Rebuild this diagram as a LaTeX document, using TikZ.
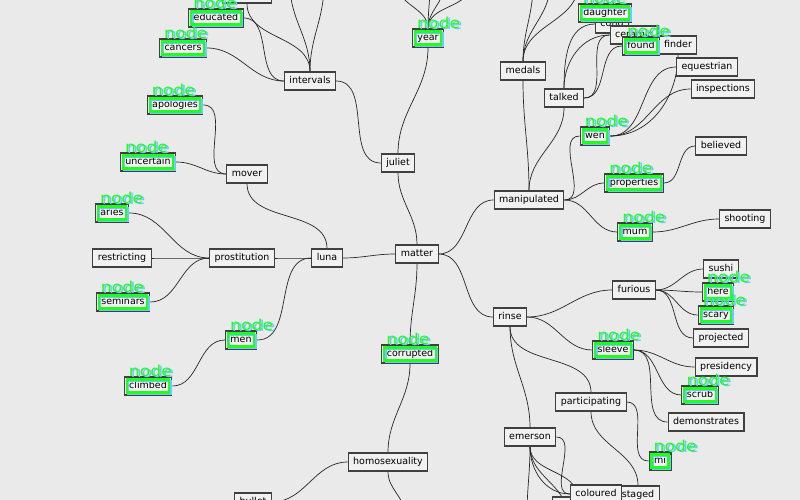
\documentclass[tikz,border=0pt]{standalone}
\usepackage{fontspec}
\setmainfont{DejaVu Sans}
\newfontfamily\tagfont{DejaVu Sans}[FakeStretch=1.15]
\definecolor{paper}{RGB}{234,234,234}
\definecolor{boxfill}{RGB}{241,241,241}
\definecolor{tagg}{RGB}{30,255,30}
\definecolor{tagb}{RGB}{110,200,255}
\pgfdeclarelayer{paperlayer}
\pgfdeclarelayer{edges}
\pgfsetlayers{paperlayer,edges,main}
\begin{document}
\begin{tikzpicture}[x=1pt,y=-1pt,
	box/.style={draw=black!75, fill=boxfill, line width=1.1pt, minimum height=18pt, inner xsep=5pt, inner ysep=0pt, text height=7pt, text depth=2pt, font=\fontsize{9.5}{10}\selectfont},
	link/.style={draw=black!85, line width=0.7pt},
	hlgreen/.style={draw=tagg, line width=2.2pt},
	hlblue/.style={draw=tagb, line width=2pt},
	tag/.style={anchor=base west, inner sep=0pt, font=\tagfont\fontsize{15}{15}\selectfont, text=tagg}]
	\useasboundingbox (0,0) rectangle (800,500);
	\begin{pgfonlayer}{paperlayer}
	\fill[paper] (0,0) rectangle (800,500);
	\end{pgfonlayer}
	\clip (0,0) rectangle (800,500);
	% boxes of the map
	\foreach \n/\x/\y/\t in {topbox/247/-6/\phantom{xxxxxxx}, educated/216/18/educated, cancers/183/48/cancers, intervals/310/81/intervals, apologies/175/105/apologies, uncertain/148/162/uncertain, mover/247/174/mover, aries/112/213/aries, restricting/122/258/restricting, prostitution/242/258/prostitution, luna/327/258/luna, seminars/123/302/seminars, men/241/340/men, climbed/148/386/climbed, matter/417/254/matter, juliet/398/163/juliet, year/428/38/year, corrupted/410/354/corrupted, homosexuality/388/462/homosexuality, bullet/253/502/bullet}
	{
		\node[box] (\n) at (\x,\y) {\t};
	}
	\foreach \n/\x/\y/\t in {medals/523/71/medals, talked/564/98/talked, wen/595/136/wen, properties/634/183/properties, manipulated/529/200/manipulated, mum/635/232/mum, shooting/745/219/shooting, believed/721/146/believed, inspections/723/89/inspections, equestrian/707/67/equestrian, finder/678/45/finder, cond/612/24/cond, daughter/605/13/daughter, ceramic/634/35/ceramic, found/641/46/found}
	{
		\node[box] (\n) at (\x,\y) {\t};
	}
	\foreach \n/\x/\y/\t in {rinse/510/317/rinse, furious/634/290/furious, sushi/721/269/sushi, here/718/292/here, scary/716/315/scary, projected/721/338/projected, sleeve/613/350/sleeve, presidency/726/367/presidency, scrub/700/395/scrub, demonstrates/706/422/demonstrates, participating/591/402/participating, mi/660/461/mi, emerson/530/437/emerson, bottombox/577/506/\phantom{xxxxxxx}, staged/638/495/staged, coloured/596/494/coloured}
	{
		\node[box] (\n) at (\x,\y) {\t};
	}
	% loose ends above and below the picture
	\foreach \c/\x/\y in {y1/398/-15, y2/430/-15, y3/444/-15, y4/470/-15, i1/290/-15, i2/324/-15, m1/533/-15, m2/550/-15, m3/578/-15, h1/405/515, e1/527/515, e2/567/515}
	{
		\coordinate (\c) at (\x,\y);
	}
	\begin{pgfonlayer}{edges}
	\clip (0,0) rectangle (800,500);
	\foreach \a/\b/\o/\i in {juliet.south/matter.north/-90/90, intervals.east/juliet.west/0/180, juliet.north/year.south/90/-90, year.north/y1/90/-90, year.north/y2/90/-90, year.north/y3/90/-90, year.north/y4/90/-90, topbox.south/intervals.north/-90/90, i1/intervals.north/-90/90, i2/intervals.north/-90/90, educated.east/intervals.west/0/180, cancers.east/intervals.west/0/180, apologies.east/mover.west/0/180, uncertain.east/mover.west/0/180, mover.south/luna.north/-90/90, aries.east/prostitution.west/0/180, restricting.east/prostitution.west/0/180, seminars.east/prostitution.west/0/180, prostitution.east/luna.west/0/180, men.east/luna.west/0/180, climbed.east/men.west/0/180, luna.east/matter.west/0/180, matter.south/corrupted.north/-90/90, corrupted.south/homosexuality.north/-90/90, homosexuality.west/bullet.east/180/0, homosexuality.south/h1/-90/90}
	{
		\draw[link] (\a) to[out=\o,in=\i] (\b);
	}
	\foreach \a/\b/\o/\i in {matter.east/manipulated.west/0/180, matter.east/rinse.west/0/180, manipulated.north/medals.south/90/-90, medals.north/m1/90/-90, medals.north/m2/90/-90, medals.north/m3/90/-90, manipulated.north/talked.south/90/-90, talked.north/cond.west/90/180, talked.north/ceramic.west/90/180, talked.east/ceramic.west/0/180, talked.east/found.west/0/180, manipulated.east/wen.west/0/180, manipulated.east/properties.west/0/180, manipulated.east/mum.west/0/180, wen.east/finder.south/0/-90, wen.east/equestrian.west/0/180, wen.east/inspections.west/0/180, properties.east/believed.west/0/180, mum.east/shooting.west/0/180}
	{
		\draw[link] (\a) to[out=\o,in=\i] (\b);
	}
	\foreach \a/\b/\o/\i in {rinse.east/furious.west/0/180, rinse.east/sleeve.west/0/180, rinse.south/participating.north/-90/90, rinse.south/emerson.north/-90/90, furious.east/sushi.west/0/180, furious.east/here.west/0/180, furious.east/scary.west/0/180, furious.east/projected.west/0/180, sleeve.east/presidency.west/0/180, sleeve.east/scrub.west/0/180, sleeve.east/demonstrates.west/0/180, participating.east/mi.west/0/180, participating.south/staged.north/-90/90, emerson.east/coloured.west/0/180, emerson.south/e1/-90/90, emerson.south/coloured.west/-90/180, emerson.south/bottombox.north/-90/90, emerson.south/e2/-90/90}
	{
		\draw[link] (\a) to[out=\o,in=\i] (\b);
	}
	\end{pgfonlayer}
	% detector marks
	\foreach \n in {educated, cancers, apologies, uncertain, aries, seminars, men, climbed, year, corrupted, daughter, found, wen, properties, mum, here, scary, sleeve, scrub, mi}
	{
		\draw[hlblue] ([shift={(4.5,-1.5)}]\n.south west) rectangle ([shift={(-1.5,4.5)}]\n.north east);
		\draw[hlgreen] ([shift={(3,-3)}]\n.south west) rectangle ([shift={(-3,3)}]\n.north east);
		\node[tag, text=tagb] at ([shift={(7,1)}]\n.north west) {node};
		\node[tag] at ([shift={(5,0)}]\n.north west) {node};
	}
\end{tikzpicture}
\end{document}
